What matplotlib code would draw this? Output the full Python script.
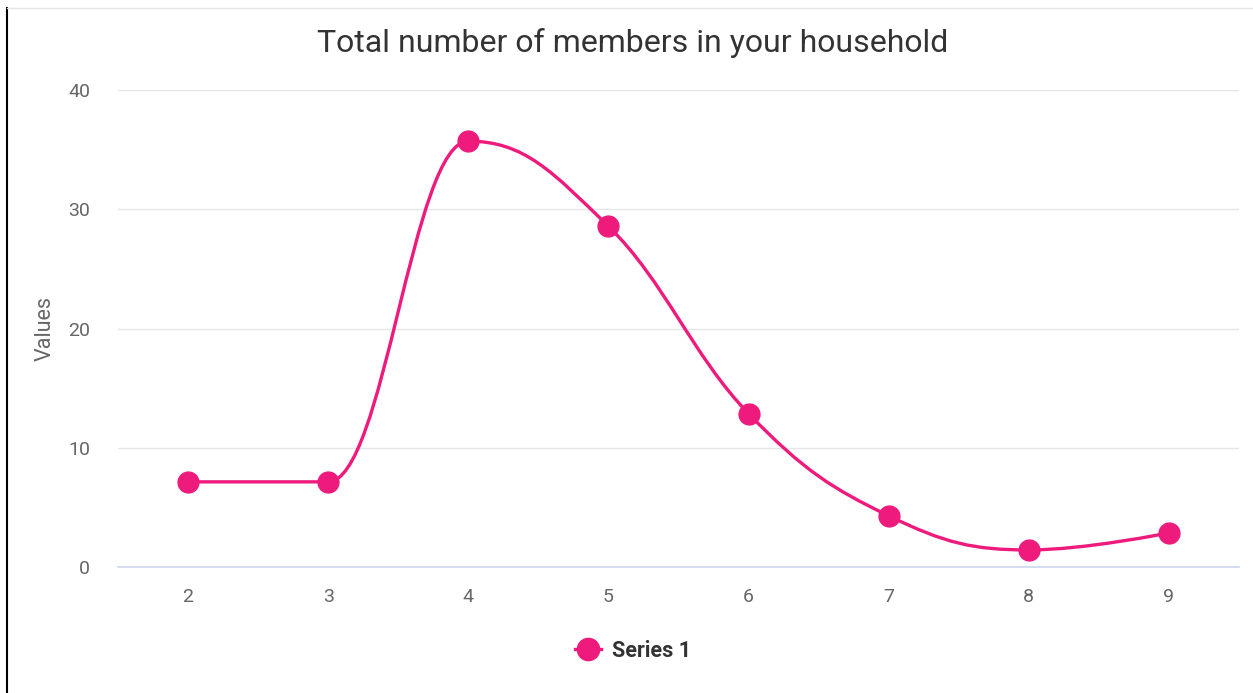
import matplotlib.pyplot as plt
from matplotlib.path import Path
from matplotlib.patches import PathPatch
from matplotlib.lines import Line2D

# fonts: Roboto looks closest to the original
plt.rcParams['font.family'] = ['Roboto', 'DejaVu Sans']

categories = [2, 3, 4, 5, 6, 7, 8, 9]
values = [7.14, 7.14, 35.71, 28.57, 12.86, 4.29, 1.43, 2.86]
y_ticks = [0, 10, 20, 30, 40]

PINK = '#ee1a7c'


def spline_path(xs, ys, smoothing=1.5):
    # Highcharts-style spline control points
    n = len(xs)
    denom = smoothing + 1
    left = [(x, y) for x, y in zip(xs, ys)]
    right = [(x, y) for x, y in zip(xs, ys)]
    for i in range(1, n - 1):
        px, py = xs[i], ys[i]
        lx, ly = xs[i - 1], ys[i - 1]
        nx, ny = xs[i + 1], ys[i + 1]
        lcx = (smoothing * px + lx) / denom
        lcy = (smoothing * py + ly) / denom
        rcx = (smoothing * px + nx) / denom
        rcy = (smoothing * py + ny) / denom
        if rcx != lcx:
            corr = (rcy - lcy) * (rcx - px) / (rcx - lcx) + py - rcy
            lcy += corr
            rcy += corr
        if lcy > ly and lcy > py:
            lcy = max(ly, py)
            rcy = 2 * py - lcy
        elif lcy < ly and lcy < py:
            lcy = min(ly, py)
            rcy = 2 * py - lcy
        if rcy > ny and rcy > py:
            rcy = max(ny, py)
            lcy = 2 * py - rcy
        elif rcy < ny and rcy < py:
            rcy = min(ny, py)
            lcy = 2 * py - rcy
        left[i] = (lcx, lcy)
        right[i] = (rcx, rcy)
    verts = [(xs[0], ys[0])]
    codes = [Path.MOVETO]
    for i in range(1, n):
        verts += [right[i - 1], left[i], (xs[i], ys[i])]
        codes += [Path.CURVE4] * 3
    return Path(verts, codes)


fig = plt.figure(figsize=(12.53, 6.93), dpi=100)
ax = fig.add_axes([118 / 1253, 1 - 567 / 693, (1239 - 118) / 1253, (567 - 90) / 693])

ax.add_patch(PathPatch(spline_path(categories, values), facecolor='none',
                       edgecolor=PINK, linewidth=2.4, capstyle='round', zorder=3))
ax.plot(categories, values, linestyle='none', marker='o', markersize=15,
        color=PINK, zorder=4)

ax.set_xlim(1.5, 9.5)
ax.set_ylim(0, 40)
ax.set_yticks(y_ticks)
ax.set_xticks(categories)
ax.grid(axis='y', color='#e6e6e6', linewidth=1)
ax.set_axisbelow(True)
for s in ['top', 'right', 'left']:
    ax.spines[s].set_visible(False)
ax.spines['bottom'].set_color('#ccd6eb')
ax.spines['bottom'].set_linewidth(1.2)
ax.tick_params(axis='both', length=0, labelsize=14, labelcolor='#666666')
ax.tick_params(axis='y', pad=20)
ax.tick_params(axis='x', pad=15)
ax.set_ylabel('Values', fontsize=15.5, color='#666666', labelpad=9)

fig.text(0.505, 1 - 43 / 693, 'Total number of members in your household',
         ha='center', va='center', fontsize=23, color='#333333')

handle = Line2D([], [], color=PINK, linewidth=2.4, marker='o', markersize=16)
fig.legend([handle], ['Series 1'], loc='center', bbox_to_anchor=(0.505, 1 - 651 / 693),
           frameon=False, handlelength=1.2, handletextpad=0.5,
           prop={'weight': 'bold', 'size': 15.5}, labelcolor='#333333')

# page border bits visible in the screenshot
fig.add_artist(Line2D([7 / 1253, 7 / 1253], [0, 1 - 8 / 693], color='black', linewidth=1.5))
fig.add_artist(Line2D([7 / 1253, 1], [1 - 8 / 693, 1 - 8 / 693], color='#e6e6e6', linewidth=1))

fig.savefig('out.png', dpi=100)
